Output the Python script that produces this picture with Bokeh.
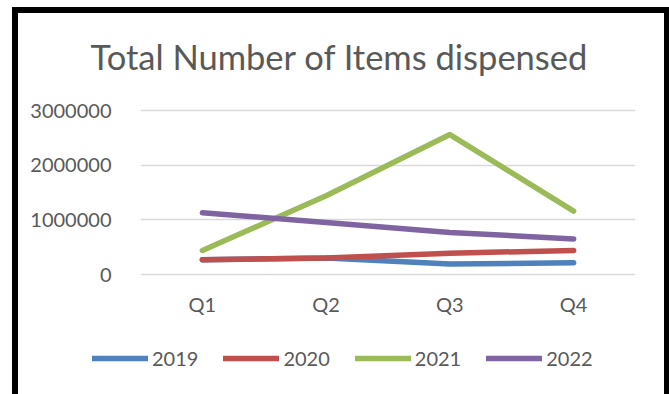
from bokeh.plotting import figure
from bokeh.layouts import column
from bokeh.models import (Range1d, FixedTicker, NumeralTickFormatter, Legend, LegendItem)
from bokeh.embed import file_html
from bokeh.resources import INLINE

quarters = ["Q1", "Q2", "Q3", "Q4"]
y2019 = [270000, 300000, 190000, 215000]
y2020 = [270000, 300000, 390000, 440000]
y2021 = [440000, 1440000, 2560000, 1160000]
y2022 = [1130000, 950000, 770000, 650000]
series_names = ["2019", "2020", "2021", "2022"]
series_colors = ["#4F81BD", "#C0504D", "#9BBB59", "#8064A2"]
y_ticks = [0, 1000000, 2000000, 3000000]
series = [y2019, y2020, y2021, y2022]

FONT = "Lato"
GRAY = "#595959"


def bare(fig):
    fig.outline_line_color = None
    fig.background_fill_color = "white"
    fig.border_fill_color = "white"
    fig.grid.visible = False
    return fig


# --- title strip ---
p_top = bare(figure(width=646, height=85, output_backend="svg", toolbar_location=None,
                    x_axis_location=None, y_axis_location=None, frame_align=False,
                    min_border_left=0, min_border_right=0, min_border_top=0, min_border_bottom=0))
p_top.title.text = "Total Number of Items dispensed"
p_top.title.text_font = FONT
p_top.title.text_font_size = "34.5px"
p_top.title.text_font_style = "normal"
p_top.title.text_color = GRAY
p_top.title.align = "left"
p_top.title.offset = 72
p_top.title.standoff = 40

# --- main chart ---
p = figure(width=646, height=220, x_range=quarters, y_range=Range1d(-36585, 3036585),
           output_backend="svg", toolbar_location=None, frame_align=False,
           min_border_left=122, min_border_right=29, min_border_top=10, min_border_bottom=42)
p.outline_line_color = None
p.background_fill_color = "white"
p.border_fill_color = "white"

p.xgrid.grid_line_color = None
p.ygrid.grid_line_color = "#d9d9d9"
p.ygrid.grid_line_width = 1.3

p.yaxis.ticker = FixedTicker(ticks=y_ticks)
p.yaxis.formatter = NumeralTickFormatter(format="0")
p.yaxis.axis_line_color = None
p.yaxis.major_tick_line_color = None
p.yaxis.minor_tick_line_color = None
p.yaxis.major_label_text_font = FONT
p.yaxis.major_label_text_font_size = "20px"
p.yaxis.major_label_text_color = GRAY
p.yaxis.major_label_standoff = 23

p.xaxis.axis_line_color = None
p.xaxis.major_tick_line_color = None
p.xaxis.major_label_text_font = FONT
p.xaxis.major_label_text_font_size = "20px"
p.xaxis.major_label_text_color = GRAY
p.xaxis.major_label_standoff = 9

for name, vals, col in zip(series_names, series, series_colors):
    p.line(quarters, vals, line_color=col, line_width=5.5,
           line_cap="round", line_join="round")

# --- legend strip ---
p_leg = bare(figure(width=646, height=76, x_range=quarters, y_range=Range1d(0, 3000000),
                    output_backend="svg", toolbar_location=None, frame_align=False,
                    x_axis_location=None, y_axis_location=None,
                    min_border_left=0, min_border_right=0, min_border_top=0, min_border_bottom=0))
items = []
for name, vals, col in zip(series_names, series, series_colors):
    r = p_leg.line(quarters, vals, line_color=col, line_width=5.5,
                   line_cap="round", line_join="round", visible=False)
    items.append(LegendItem(label=name, renderers=[r]))

legend = Legend(items=items, orientation="horizontal", location=(74, 24),
                glyph_width=56, glyph_height=20, label_standoff=4, spacing=25,
                padding=0, margin=0, click_policy="none", inactive_fill_alpha=0,
                label_text_font=FONT, label_text_font_size="20px", label_text_color=GRAY,
                background_fill_alpha=0, border_line_color=None)
p_leg.add_layout(legend, "center")

page = column(p_top, p, p_leg, spacing=0,
              styles={"margin-left": "12px", "margin-top": "7px",
                      "border-left": "6px solid black", "border-top": "6px solid black",
                      "border-right": "6px solid black"})

open("out.html", "w").write(file_html(page, INLINE))
